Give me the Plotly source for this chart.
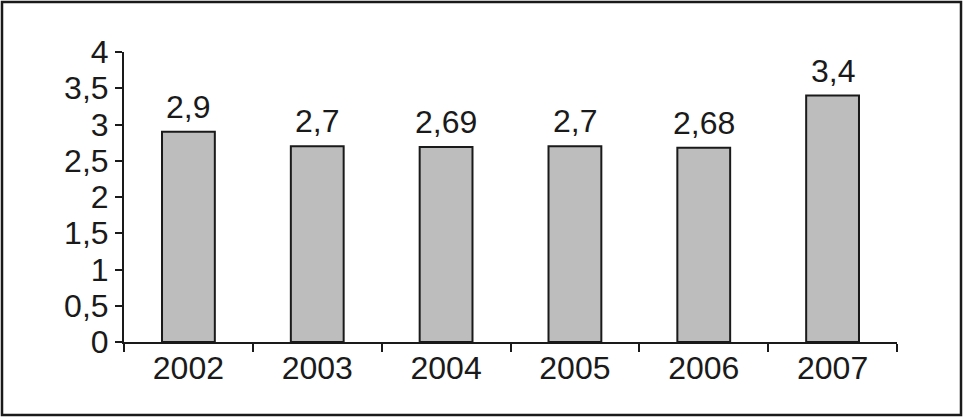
import plotly.graph_objects as go

years = ["2002", "2003", "2004", "2005", "2006", "2007"]
values = [2.9, 2.7, 2.69, 2.7, 2.68, 3.4]
labels = [str(v).replace(".", ",") for v in values]

W, H = 963, 417
ml, mr, mt, mb = 124, 66, 52, 75
pw, ph = W - ml - mr, H - mt - mb
FS = 32
FONT = "Liberation Sans, Arial, Helvetica, sans-serif"

fig = go.Figure(go.Bar(
    x=years, y=values,
    marker=dict(color="#bdbdbd", line=dict(color="#1a1a1a", width=2)),
    width=0.41, cliponaxis=False,
))

# value labels above the bars (category index positions on the category axis)
for i, (v, lab) in enumerate(zip(values, labels)):
    fig.add_annotation(x=i, y=v, xref="x", yref="y", text=lab, showarrow=False,
                       yanchor="bottom", xanchor="center", yshift=5,
                       font=dict(size=FS, color="#1a1a1a", family=FONT))

# outer frame in paper coordinates
fig.add_shape(type="rect", xref="paper", yref="paper",
              x0=(2 - ml) / pw, x1=(961 - ml) / pw,
              y0=(H - 415 - mb) / ph, y1=(H - 2 - mb) / ph,
              line=dict(color="#1a1a1a", width=2.5), fillcolor="rgba(0,0,0,0)")

fig.update_layout(
    width=W, height=H,
    margin=dict(l=ml, r=mr, t=mt, b=mb),
    paper_bgcolor="white", plot_bgcolor="white",
    separators=", ",
    showlegend=False,
    font=dict(family=FONT, size=FS, color="#1a1a1a"),
    xaxis=dict(
        type="category", categoryorder="array", categoryarray=years,
        range=[-0.5, len(years) - 0.5],
        tickson="boundaries", ticks="outside", ticklen=8,
        tickwidth=1.5, tickcolor="#1a1a1a", showline=True, linecolor="#1a1a1a",
        linewidth=2, showgrid=False, zeroline=False, fixedrange=True,
        tickfont=dict(size=FS), ticklabelstandoff=-3,
    ),
    yaxis=dict(
        range=[0, 4], dtick=0.5, tick0=0, ticks="outside", ticklen=7,
        tickwidth=1.5, tickcolor="#1a1a1a", showline=True, linecolor="#1a1a1a",
        linewidth=2, showgrid=False, zeroline=False, fixedrange=True,
        tickfont=dict(size=FS), ticklabelstandoff=0,
    ),
)

fig.write_html("out.html", config={"displayModeBar": False},
               post_script="document.body.style.margin='0';document.body.style.overflow='hidden';")
